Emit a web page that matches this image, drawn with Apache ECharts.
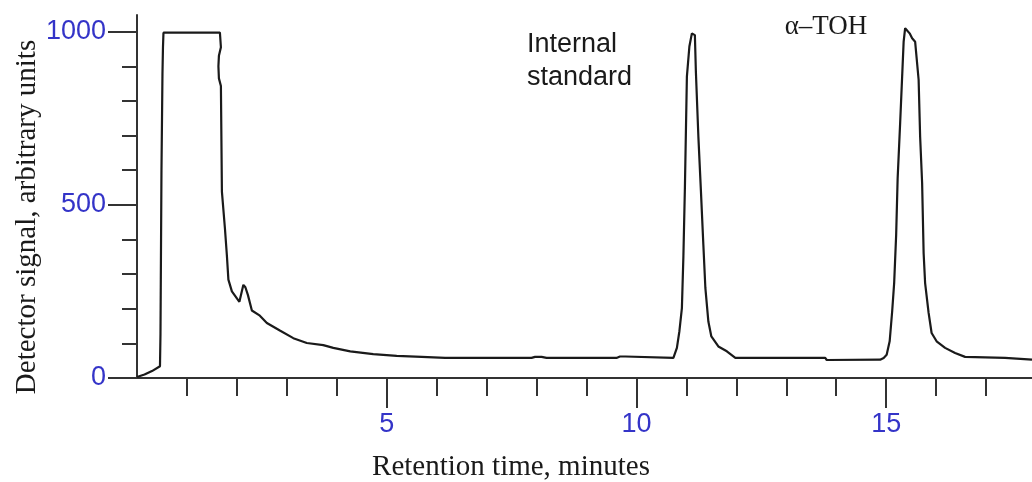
<!DOCTYPE html>
<html>
<head>
<meta charset="utf-8">
<script src="https://cdn.jsdelivr.net/npm/echarts@6/dist/echarts.min.js"></script>
<style>
html,body{margin:0;padding:0;background:#fff;}
#chart{width:1032px;height:482px;}
</style>
</head>
<body>
<div id="chart"></div>
<script>
// Retention time (minutes)
const retentionTime = [
  0.00, 0.15, 0.30, 0.46, 0.47, 0.49, 0.51, 0.52, 0.53,
  1.66, 1.68, 1.64, 1.63, 1.64, 1.68, 1.70, 1.76, 1.80, 1.83, 1.90, 2.05, 2.13, 2.17, 2.22, 2.30,
  2.46, 2.60, 2.86, 3.13, 3.40, 3.73, 3.93, 4.27, 4.73, 5.20, 5.70, 6.17, 7.90, 7.97, 8.10, 8.20,
  9.60, 9.67, 9.78, 9.81, 10.74, 10.81, 10.86, 10.91, 10.94, 10.97, 11.01, 11.06, 11.11, 11.17,
  11.19, 11.24, 11.29, 11.34, 11.38, 11.44, 11.50, 11.64, 11.81, 11.98, 13.78, 13.81, 14.88,
  14.95, 15.01, 15.07, 15.12, 15.16, 15.20, 15.23, 15.28, 15.33, 15.35, 15.38, 15.42, 15.47,
  15.52, 15.58, 15.65, 15.68, 15.72, 15.75, 15.78, 15.85, 15.91, 16.01, 16.18, 16.38, 16.58,
  17.38, 17.42, 17.92
];
// Detector signal (arbitrary units)
const detectorSignal = [
  3, 10, 20, 34, 125, 600, 880, 955, 997,
  997, 955, 930, 900, 865, 843, 538, 433, 353, 284, 250, 220, 269, 262, 240, 195,
  180, 159, 137, 115, 101, 95, 87, 77, 69, 64, 61, 58, 58, 61, 61, 58,
  58, 62, 62, 58, 58, 87, 135, 202, 351, 548, 870, 957, 995, 990,
  885, 697, 543, 384, 260, 163, 120, 91, 77, 58, 58, 52, 53,
  58, 67, 106, 192, 274, 413, 577, 736, 904, 971, 1010, 1013, 995,
  981, 971, 861, 697, 563, 361, 274, 188, 130, 106, 87, 72, 61,
  58, 53, 53
];
const xMinorTicks = [1, 2, 3, 4, 6, 7, 8, 9, 11, 12, 13, 14, 16, 17];
const xMajorTicks = [5, 10, 15];
const yMinorTicks = [100, 200, 300, 400, 600, 700, 800, 900];
const yMajorTicks = [0, 500, 1000];
const xTitle = 'Retention time, minutes';
const yTitle = 'Detector signal, arbitrary units';
const peakLabels = ['Internal\nstandard', 'α–TOH'];

const chart = echarts.init(document.getElementById('chart'), null, {renderer: 'canvas'});
const axisColor = '#333333';
const labelColor = '#3434c8';
const seriesData = retentionTime.map((t, i) => [t, detectorSignal[i]]);
const plain = v => String(v);

chart.setOption({
  backgroundColor: '#ffffff',
  animation: false,
  grid: {left: 137, right: 0, top: 15, bottom: 104, containLabel: false},
  xAxis: [
    {
      type: 'value', position: 'bottom', min: 0, max: 17.92,
      axisLine: {show: true, lineStyle: {color: axisColor, width: 2}},
      axisTick: {show: true, customValues: xMinorTicks, length: 18, lineStyle: {color: axisColor, width: 2}},
      axisLabel: {show: false},
      splitLine: {show: false}
    },
    {
      type: 'value', position: 'bottom', min: 0, max: 17.92,
      axisLine: {show: false},
      axisTick: {show: true, customValues: xMajorTicks, length: 30, lineStyle: {color: axisColor, width: 2}},
      axisLabel: {show: true, customValues: xMajorTicks, margin: 33, color: labelColor, formatter: plain,
                  fontFamily: 'Liberation Sans, Arial, sans-serif', fontSize: 27},
      splitLine: {show: false}
    }
  ],
  yAxis: [
    {
      type: 'value', position: 'left', min: 0, max: 1048,
      axisLine: {show: true, lineStyle: {color: axisColor, width: 2}},
      axisTick: {show: true, customValues: yMinorTicks, length: 15, lineStyle: {color: axisColor, width: 2}},
      axisLabel: {show: false},
      splitLine: {show: false}
    },
    {
      type: 'value', position: 'left', min: 0, max: 1048,
      axisLine: {show: false},
      axisTick: {show: true, customValues: yMajorTicks, length: 29, lineStyle: {color: axisColor, width: 2}},
      axisLabel: {show: true, customValues: yMajorTicks, margin: 31, color: labelColor, formatter: plain,
                  fontFamily: 'Liberation Sans, Arial, sans-serif', fontSize: 27},
      splitLine: {show: false}
    }
  ],
  series: [{
    type: 'line',
    xAxisIndex: 0, yAxisIndex: 0,
    data: seriesData,
    symbol: 'none',
    smooth: false,
    clip: true,
    lineStyle: {color: '#1a1a1a', width: 2.2},
    z: 5
  }],
  graphic: [
    {
      type: 'text', x: 27, y: 217, rotation: Math.PI / 2,
      style: {text: yTitle, font: '29px "Liberation Serif", "Times New Roman", serif',
              fill: '#1a1a1a', align: 'center', verticalAlign: 'middle'}
    },
    {
      type: 'text', x: 511, y: 467,
      style: {text: xTitle, font: '29px "Liberation Serif", "Times New Roman", serif',
              fill: '#1a1a1a', align: 'center', verticalAlign: 'middle'}
    },
    {
      type: 'text', x: 527, y: 28,
      style: {text: peakLabels[0], font: '27px "Liberation Sans", Arial, sans-serif',
              fill: '#1a1a1a', align: 'left', verticalAlign: 'top', lineHeight: 33}
    },
    {
      type: 'text', x: 826, y: 27,
      style: {text: peakLabels[1], font: '27px "Liberation Serif", "Times New Roman", serif',
              fill: '#1a1a1a', align: 'center', verticalAlign: 'middle'}
    }
  ]
});
</script>
</body>
</html>
